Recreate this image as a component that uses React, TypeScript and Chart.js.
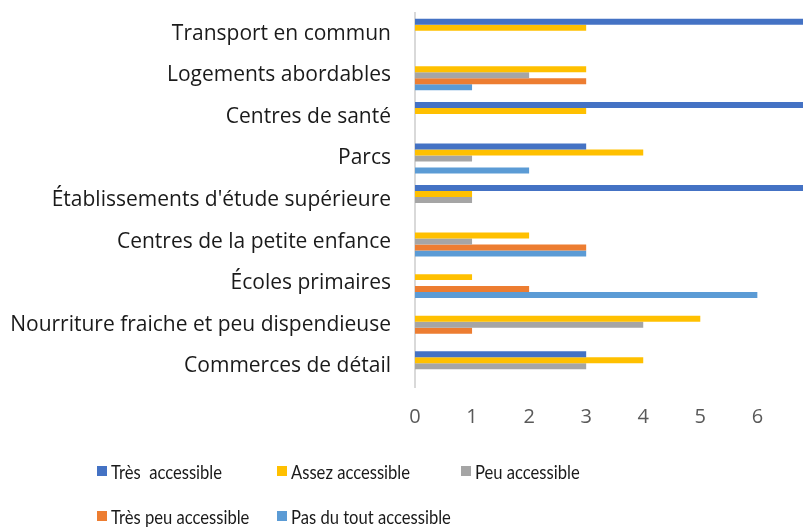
import React, { useEffect, useRef } from "react";
import { Chart, registerables } from "chart.js";

Chart.register(...registerables);

const categories = [
  "Transport en commun",
  "Logements abordables",
  "Centres de santé",
  "Parcs",
  "Établissements d'étude supérieure",
  "Centres de la petite enfance",
  "Écoles primaires",
  "Nourriture fraiche et peu dispendieuse",
  "Commerces de détail",
];

const seriesNames = [
  "Très  accessible",
  "Assez accessible",
  "Peu accessible",
  "Très peu accessible",
  "Pas du tout accessible",
];

const tresAccessible = [7, 0, 7, 3, 7, 0, 0, 0, 3];
const assezAccessible = [3, 3, 3, 4, 1, 2, 1, 5, 4];
const peuAccessible = [0, 2, 0, 1, 1, 1, 0, 4, 3];
const tresPeuAccessible = [0, 3, 0, 0, 0, 3, 2, 1, 0];
const pasDuToutAccessible = [0, 1, 0, 2, 0, 3, 6, 0, 0];

const seriesColors = ["#4472C4", "#FFC000", "#A5A5A5", "#ED7D31", "#5B9BD5"];

const FONT = "'Open Sans', Lato, sans-serif";
const LEGEND_FONT = "Lato, 'Open Sans', sans-serif";

export default function App() {
  const ref = useRef<HTMLCanvasElement | null>(null);

  useEffect(() => {
    document.body.style.margin = "0";
    const values = [
      tresAccessible,
      assezAccessible,
      peuAccessible,
      tresPeuAccessible,
      pasDuToutAccessible,
    ];
    const chart = new Chart(ref.current as HTMLCanvasElement, {
      type: "bar",
      data: {
        labels: categories,
        datasets: values.map((v, i) => ({
          label: seriesNames[i],
          data: v,
          backgroundColor: seriesColors[i],
          borderWidth: 0,
          barPercentage: 1,
          categoryPercentage: 0.72,
        })),
      },
      options: {
        indexAxis: "y",
        animation: false,
        responsive: false,
        maintainAspectRatio: false,
        layout: { padding: { top: 13, bottom: 95, left: 0, right: 0 } },
        plugins: {
          legend: { display: false },
          tooltip: { enabled: false },
        },
        scales: {
          x: {
            min: 0,
            max: 6.8,
            grid: { display: false },
            border: { display: false },
            ticks: {
              stepSize: 1,
              includeBounds: false,
              color: "#595959",
              padding: 10,
              font: { family: FONT, size: 20 },
            },
            afterFit: (s: any) => {
              s.height = 45;
              s.paddingLeft = 0;
              s.paddingRight = 0;
            },
          },
          y: {
            grid: { display: false, drawTicks: false },
            border: { display: true, color: "#d9d9d9", width: 2 },
            ticks: {
              color: "#1a1a1a",
              padding: 24,
              font: { family: FONT, size: 21 },
            },
            afterFit: (s: any) => {
              s.width = 415;
              s.paddingTop = 0;
              s.paddingBottom = 0;
            },
          },
        },
      },
    });
    return () => chart.destroy();
  }, []);

  const legendPos = [
    { x: 97, y: 471 },
    { x: 277, y: 471 },
    { x: 461, y: 471 },
    { x: 97, y: 516 },
    { x: 277, y: 516 },
  ];

  return (
    <div style={{ position: "relative", width: 803, height: 527 }}>
      <canvas ref={ref} width={803} height={527} style={{ display: "block" }} />
      {seriesNames.map((name, i) => (
        <div
          key={name}
          style={{
            position: "absolute",
            left: legendPos[i].x,
            top: legendPos[i].y - 12,
            height: 24,
            display: "flex",
            alignItems: "center",
            fontFamily: LEGEND_FONT,
            fontSize: 20,
            color: "#1a1a1a",
            whiteSpace: "pre",
          }}
        >
          <span
            style={{
              display: "inline-block",
              width: 10,
              height: 10,
              background: seriesColors[i],
              marginRight: 4,
              flex: "none",
            }}
          />
          <span
            style={{
              display: "inline-block",
              transform: "scaleX(0.83)",
              transformOrigin: "left center",
            }}
          >
            {name}
          </span>
        </div>
      ))}
    </div>
  );
}
